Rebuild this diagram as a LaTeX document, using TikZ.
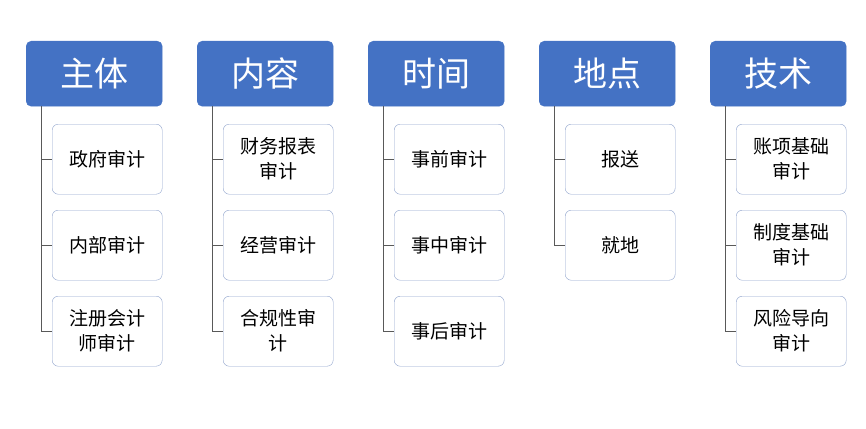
\documentclass[tikz,border=0pt]{standalone}
\usepackage{fontspec}
\newfontfamily\cjk{Noto Sans CJK SC}
\definecolor{hb}{HTML}{4472C4}
\definecolor{cb}{HTML}{8FA3CC}
\begin{document}
\begin{tikzpicture}[x=1pt,y=-1pt,
  hdr/.style={fill=hb,draw=hb,rounded corners=5pt,minimum width=136pt,minimum height=65pt,text=white,font=\cjk\fontsize{34}{38}\selectfont,anchor=north west,inner sep=0},
  child/.style={draw=cb,fill=white,rounded corners=6pt,minimum width=110pt,minimum height=70pt,font=\cjk\fontsize{19}{25}\selectfont,anchor=north west,align=center,inner sep=0,text width=100pt},
  conn/.style={draw=black!65,line width=0.8pt}]
\useasboundingbox (0,0) rectangle (866,428);
\foreach \i/\h/\a/\b/\c in {0/主体/政府审计/内部审计/注册会计\\师审计,1/内容/财务报表\\审计/经营审计/合规性审\\计,2/时间/事前审计/事中审计/事后审计,3/地点/报送/就地/,4/技术/账项基础\\审计/制度基础\\审计/风险导向\\审计}{
  \pgfmathsetmacro\x{26+171*\i}
  \node[hdr] (h\i) at (\x,41) {\h};
  \coordinate (s\i) at (\x+15,106);
  \node[child] (a\i) at (\x+26,124) {\a};
  \node[child] (b\i) at (\x+26,210) {\b};
  \draw[conn] (s\i) |- (a\i.west);
  \draw[conn] (s\i) |- (b\i.west);
}
\foreach \i/\c in {0/注册会计\\师审计,1/合规性审\\计,2/事后审计,4/风险导向\\审计}{
  \pgfmathsetmacro\x{26+171*\i}
  \node[child] (c\i) at (\x+26,296) {\c};
  \draw[conn] (s\i) |- (c\i.west);
}
\end{tikzpicture}
\end{document}
